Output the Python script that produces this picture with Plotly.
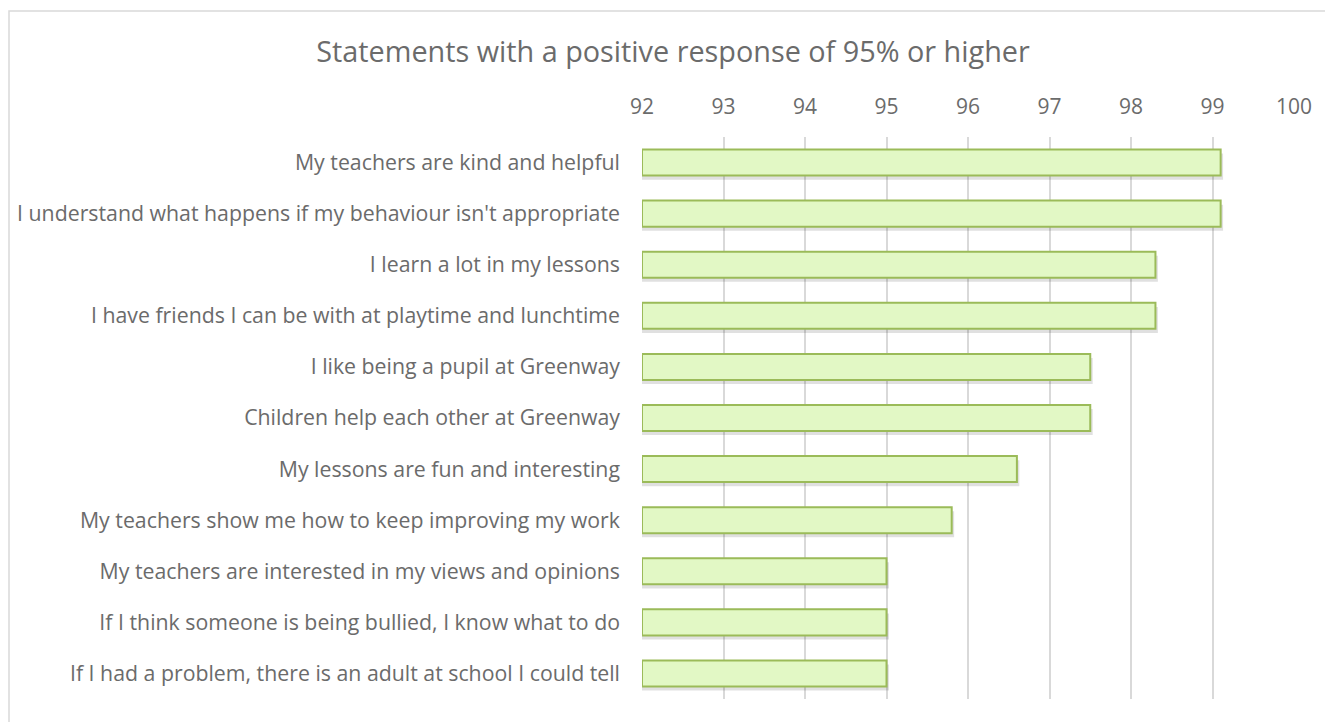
import plotly.graph_objects as go

statements = [
    "My teachers are kind and helpful",
    "I understand what happens if my behaviour isn't appropriate",
    "I learn a lot in my lessons",
    "I have friends I can be with at playtime and lunchtime",
    "I like being a pupil at Greenway",
    "Children help each other at Greenway",
    "My lessons are fun and interesting",
    "My teachers show me how to keep improving my work",
    "My teachers are interested in my views and opinions",
    "If I think someone is being bullied, I know what to do",
    "If I had a problem, there is an adult at school I could tell",
]
positive_pct = [99.1, 99.1, 98.3, 98.3, 97.5, 97.5, 96.6, 95.8, 95.0, 95.0, 95.0]
x_ticks = [92, 93, 94, 95, 96, 97, 98, 99, 100]

OFF = 8  # default body margin of the html page
W, H = 1333 - OFF, 722 - OFF
L, R, T, B = 642 - OFF, 39, 137 - OFF, 23
pw, ph = W - L - R, H - T - B
BAR_W = 0.51
TXT = "#6b6b6b"

fig = go.Figure()
# soft drop shadow under each bar
fig.add_trace(go.Bar(
    y=statements, x=[v - 92 + 0.03 for v in positive_pct], base=92,
    orientation="h", width=BAR_W, offset=-BAR_W / 2 + 0.08,
    marker=dict(color="rgba(0,0,0,0.12)", line=dict(width=0)),
    hoverinfo="skip",
))
fig.add_trace(go.Bar(
    y=statements, x=[v - 92 for v in positive_pct], base=92,
    orientation="h", width=BAR_W, offset=-BAR_W / 2,
    marker=dict(color="#e2f8c5", line=dict(color="#9bbb59", width=2)),
    hoverinfo="skip",
))

fig.update_layout(
    width=W, height=H,
    margin=dict(l=L, r=R, t=T, b=B, autoexpand=False),
    paper_bgcolor="white", plot_bgcolor="white",
    font=dict(family="Open Sans", color=TXT, size=21),
    showlegend=False,
    barmode="overlay",
    title=dict(text="Statements with a positive response of 95% or higher",
               x=(673 - OFF) / W, xanchor="center", y=1 - (52 - OFF) / H, yanchor="middle",
               font=dict(family="Open Sans", size=28.8, color=TXT)),
    xaxis=dict(range=[92, 100], side="top", tickvals=x_ticks, automargin=False,
               showgrid=True, gridcolor="#d9d9d9", gridwidth=1.5,
               zeroline=False, showline=False, ticks="",
               ticklabelstandoff=18, tickfont=dict(size=21, color=TXT)),
    yaxis=dict(autorange="reversed", showgrid=False, zeroline=False, automargin=False,
               showline=False, ticks="", ticklabelstandoff=21,
               tickfont=dict(size=21.3, color=TXT)),
    shapes=[dict(type="rect", xref="paper", yref="paper",
                 x0=(9 - 642) / pw, x1=1.2, y0=-0.2, y1=(722 - B - 11) / ph,
                 line=dict(color="#d9d9d9", width=1.5), fillcolor="rgba(0,0,0,0)",
                 layer="below")],
)

fig.write_html("out.html")
